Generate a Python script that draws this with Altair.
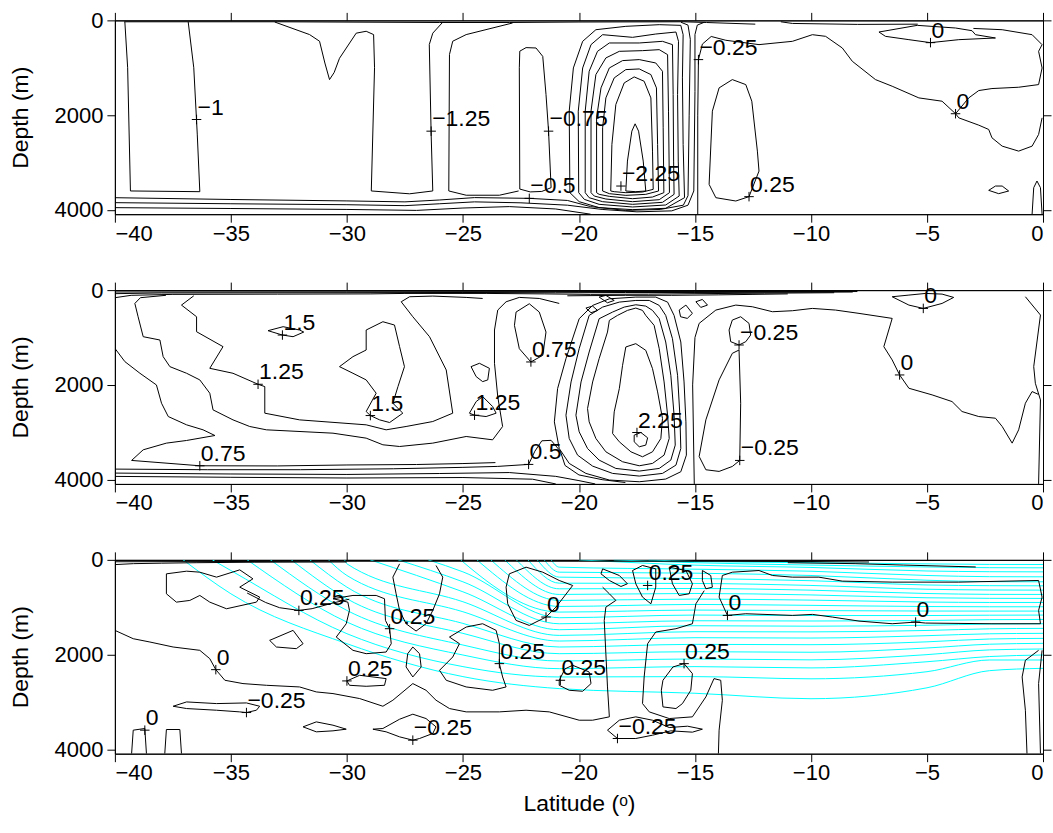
import altair as alt
import pandas as pd

FONT = "Liberation Sans"
LAT_TICKS = [-40, -35, -30, -25, -20, -15, -10, -5, 0]
DEPTH_TICKS = [0, 2000, 4000]
DEPTH_MAX = 4090

# ---------------- Panel 1 contour lines (lat, depth) ----------------
P1_LINES = {
    "surf_a": [(-39.6, 30), (-33, 30), (-26, 45), (-23, 45), (-20, 35), (-15.5, 30), (-14.5, 45), (-12.4, 80)],
    "surf_b": [(-11.3, 30), (-10.8, 65), (-8, 85), (-5.4, 80)],
    "u_left": [(-39.57, 35), (-39.45, 1000), (-39.33, 3600), (-36.34, 3615), (-36.45, 2400), (-36.6, 1000), (-36.84, 35)],
    "v_notch": [(-33.11, 35), (-31.61, 300), (-31.18, 440), (-30.95, 900), (-30.75, 1250), (-30.55, 1100), (-30.32, 800),
                (-29.6, 270), (-29.17, 230), (-28.85, 300), (-28.81, 1000), (-28.95, 3600), (-27.3, 3660), (-26.3, 3600),
                (-26.37, 2400), (-26.45, 510), (-26.3, 270), (-25.9, 55)],
    "u_mid": [(-22.86, 55), (-24.86, 300), (-25.44, 440), (-25.58, 720), (-25.61, 3600), (-24.86, 3690), (-23.43, 3690), (-22.6, 3600)],
    "loop_a": [(-22.55, 3560), (-22.57, 1000), (-22.55, 650), (-22.28, 575), (-21.85, 583), (-21.56, 760), (-21.42, 1565),
               (-21.31, 2338), (-21.2, 3530), (-21.6, 3610), (-22.1, 3620), (-22.55, 3560)],
    "loop1": [(-20.39, 3636), (-20.42, 1916), (-20.24, 1004), (-19.84, 442), (-19.27, 197), (-17.98, 126), (-16.54, 91),
              (-15.61, 105), (-15.51, 302), (-15.54, 1214), (-15.51, 2618), (-15.45, 3742), (-16.26, 3966), (-17.69, 3994),
              (-19.13, 3952), (-19.99, 3826), (-20.39, 3636)],
    "loop2": [(-20.01, 3636), (-20.03, 1916), (-19.84, 1004), (-19.48, 512), (-18.98, 302), (-17.69, 358), (-16.69, 288),
              (-15.82, 246), (-15.71, 442), (-15.75, 1565), (-15.72, 2969), (-15.68, 3707), (-16.26, 3896), (-17.69, 3938),
              (-19.13, 3882), (-19.77, 3777), (-20.01, 3636)],
    "loop3": [(-19.73, 3636), (-19.73, 1916), (-19.56, 1074), (-19.2, 653), (-18.69, 477), (-17.40, 477), (-16.40, 442),
              (-15.97, 512), (-15.94, 1565), (-15.92, 2969), (-15.90, 3671), (-16.40, 3840), (-17.69, 3882), (-18.98, 3826),
              (-19.56, 3742), (-19.73, 3636)],
    "loop4": [(-19.48, 3636), (-19.48, 1916), (-19.27, 1144), (-18.84, 793), (-18.26, 653), (-17.26, 639), (-16.54, 618),
              (-16.18, 723), (-16.14, 1916), (-16.10, 3636), (-16.54, 3784), (-17.69, 3826), (-18.84, 3770), (-19.34, 3707),
              (-19.48, 3636)],
    "loop5": [(-19.24, 3636), (-19.24, 2057), (-19.05, 1425), (-18.69, 1004), (-18.12, 849), (-17.40, 828), (-16.69, 899),
              (-16.40, 1074), (-16.37, 2267), (-16.34, 3636), (-16.83, 3728), (-17.69, 3763), (-18.69, 3714), (-19.13, 3671),
              (-19.24, 3636)],
    "loop6": [(-18.98, 3601), (-18.98, 2267), (-18.84, 1636), (-18.48, 1214), (-17.98, 1039), (-17.40, 1025), (-16.90, 1144),
              (-16.66, 1425), (-16.61, 2618), (-16.57, 3601), (-17.12, 3671), (-17.98, 3693), (-18.69, 3657), (-18.98, 3601)],
    "loop7": [(-18.63, 3601), (-18.58, 2618), (-18.41, 1776), (-18.05, 1320), (-17.62, 1193), (-17.19, 1285), (-16.90, 1636),
              (-16.83, 2759), (-16.80, 3566), (-17.26, 3622), (-17.98, 3636), (-18.48, 3615), (-18.63, 3601)],
    "loop8": [(-17.98, 3601), (-17.91, 2969), (-17.72, 2338), (-17.58, 2183), (-17.43, 2338), (-17.23, 2969), (-17.12, 3601),
              (-17.55, 3615), (-17.98, 3601)],
    "bot1": [(-40, 3742), (-35, 3780), (-30, 3810), (-27.5, 3830), (-26, 3790), (-24.5, 3740), (-22.14, 3756), (-20.5, 3800),
             (-19.5, 3930), (-18, 4010), (-16.5, 3990), (-15.5, 3900), (-15.3, 3700), (-15.25, 2000), (-15.2, 400),
             (-15.3, 100), (-15.6, 40)],
    "bot2": [(-40, 3847), (-35, 3870), (-30, 3890), (-27.5, 3910), (-26, 3870), (-24.5, 3830), (-22.5, 3850), (-20.5, 3900),
             (-19, 3990), (-17.5, 4040), (-16, 4020), (-15.3, 3900), (-15.05, 3600), (-15.0, 1500), (-15.0, 300),
             (-14.9, 100), (-14.6, 40)],
    "bot3": [(-40, 3952), (-35, 3970), (-30, 3990), (-27, 4010), (-25, 3960), (-23, 3930), (-21, 3980), (-19.5, 4090)],
    "neg025": [(-14.88, 4090), (-14.88, 2000), (-14.85, 828), (-14.68, 500), (-14.3, 340), (-13.67, 420), (-12.24, 512),
               (-10.8, 442), (-9.94, 302), (-9.37, 337), (-8.65, 583), (-8.22, 863), (-7.22, 1250), (-6.5, 1390),
               (-5.35, 1636), (-4.35, 1706), (-3.77, 1970), (-3.2, 1636), (-2.77, 1481), (-2.2, 1439), (-1.05, 1411),
               (-0.19, 1355), (-0.04, 1004), (-0.19, 653), (-0.04, 513), (-0.47, 302), (-1.76, 197), (-3.0, 170)],
    "zero_low": [(-3.77, 1970), (-3.63, 2057), (-2.77, 2211), (-2.34, 2302), (-2.2, 2478), (-1.76, 2654), (-1.05, 2759),
                 (-0.47, 2654), (-0.19, 2408), (-0.04, 2057)],
    "zero_top": [(-5.42, 105), (-7.07, 246), (-6.79, 337), (-5.78, 407), (-4.85, 470), (-3.63, 407), (-2.05, 372),
                 (-2.91, 302), (-3.06, 218), (-3.77, 161), (-5.42, 105)],
    "pos025": [(-13.39, 1250), (-13.96, 1425), (-14.25, 1916), (-14.39, 3461), (-14.1, 3742), (-13.24, 3812), (-12.67, 3720),
               (-12.24, 3180), (-12.31, 2759), (-12.55, 1706), (-12.81, 1355), (-13.39, 1250)],
    "ell": [(-2.34, 3587), (-2.05, 3496), (-1.76, 3496), (-1.48, 3601), (-1.91, 3657), (-2.34, 3587)],
    "edge": [(-0.47, 4090), (-0.40, 3531), (-0.26, 3390), (-0.11, 3531), (-0.04, 4090)],
}
P1_LABELS = [("−1", -36.48, 2092), ("−1.25", -26.37, 2338), ("−0.75", -21.31, 2338), ("−0.5", -22.14, 3756),
             ("−2.25", -18.19, 3496), ("−0.25", -14.85, 828), ("0", -4.85, 470), ("0", -3.77, 1970),
             ("0.25", -12.67, 3720)]

# ---------------- Panel 2 contour lines ----------------
P2_LINES = {
    "surf_a": [(-40, 40), (-30, 35), (-20, 30), (-15, 30), (-8, 30)],
    "surf_b": [(-40, 75), (-38, 60), (-30, 55), (-25, 50), (-21, 55), (-18, 50), (-15, 50), (-10, 45), (-8.2, 40)],
    "surf_c": [(-40, 160), (-39.3, 110), (-37.5, 90), (-33, 85), (-29, 80), (-27.5, 70), (-24, 70), (-21.5, 80),
               (-19.5, 90), (-17, 85), (-15, 75), (-12, 65), (-9, 55)],
    "surf_d": [(-20.5, 120), (-18, 110), (-16, 110), (-14, 100), (-12.5, 90), (-11, 80)],
    "tongue": [(-40, 1229), (-39.57, 1509), (-38.92, 1755), (-38.21, 2001), (-37.99, 2387), (-37.70, 2668), (-36.91, 2843),
               (-36.20, 2948), (-35.69, 3068), (-36.91, 3173), (-37.78, 3229), (-38.78, 3370), (-39.28, 3594),
               (-36.34, 3707), (-33, 3710), (-30, 3690), (-27, 3680), (-25, 3660), (-23.6, 3640)],
    "one": [(-37.8, 110), (-38.9, 160), (-39.14, 281), (-39.0, 562), (-38.78, 983), (-38.06, 1053), (-37.92, 1404),
            (-37.63, 1615), (-36.91, 1755), (-36.34, 1895), (-35.91, 2176), (-35.77, 2527), (-34.91, 2738), (-34.19, 2878),
            (-33.47, 2948), (-30.6, 3019), (-29.17, 3124), (-28.45, 3264), (-27.73, 3300), (-26.3, 3229), (-24.86, 3089),
            (-23.72, 3159), (-23.29, 2878), (-23.5, 2246), (-23.64, 1544), (-23.64, 842), (-23.5, 421), (-23.14, 246),
            (-22.57, 154), (-21.71, 176), (-20.85, 281)],
    "one_two": [(-36.6, 120), (-37.13, 316), (-36.48, 562), (-36.48, 878), (-35.34, 1193), (-35.91, 1650), (-34.91, 1755),
                (-33.83, 1987), (-33.54, 2036), (-33.54, 2597), (-32.04, 2738), (-29.17, 2843), (-28.31, 2948),
                (-27.45, 2878), (-26.3, 2773), (-25.44, 2597), (-25.72, 1685), (-26.44, 983), (-27.16, 562),
                (-27.66, 246), (-27.3, 140), (-26.3, 126), (-24.86, 154), (-24.15, 176)],
    "l15a": [(-33.40, 856), (-32.75, 772), (-32.04, 842), (-31.86, 885), (-32.32, 983), (-32.78, 948), (-33.40, 856)],
    "l15b": [(-30.32, 1615), (-29.74, 1404), (-29.17, 1264), (-29.17, 842), (-28.45, 667), (-27.95, 737), (-27.73, 1193),
             (-27.52, 1615), (-27.80, 2036), (-28.02, 2387), (-27.59, 2597), (-28.16, 2794), (-28.59, 2738),
             (-28.99, 2647), (-29.17, 2562), (-28.74, 2176), (-29.17, 1895), (-29.74, 1755), (-30.32, 1615)],
    "l125a": [(-24.65, 1615), (-24.29, 1544), (-23.86, 1650), (-23.93, 1895), (-24.15, 1931), (-24.43, 1825), (-24.65, 1615)],
    "l125b": [(-24.72, 2597), (-24.43, 2352), (-24.15, 2246), (-23.72, 2457), (-23.57, 2597), (-24.0, 2668), (-24.50, 2640),
              (-24.72, 2597)],
    "l075": [(-22.78, 744), (-22.71, 463), (-22.14, 288), (-21.71, 463), (-21.42, 885), (-21.56, 1376), (-22.07, 1516),
             (-22.57, 1236), (-22.78, 744)],
    "m1": [(-17.62, 3061), (-17.33, 3005), (-17.04, 3117), (-17.12, 3271), (-17.40, 3306), (-17.62, 3201), (-17.62, 3061)],
    "m2": [(-17.98, 1200), (-17.55, 1130), (-17.12, 1271), (-16.83, 1657), (-16.61, 2148), (-16.40, 2710), (-16.47, 3131),
           (-16.83, 3412), (-17.26, 3517), (-17.76, 3412), (-18.26, 3201), (-18.55, 3026), (-18.48, 2569), (-18.26, 2078),
           (-18.12, 1587), (-17.98, 1200)],
    "m3": [(-18.77, 885), (-18.69, 639), (-18.34, 534), (-17.91, 428), (-17.55, 379), (-17.26, 428), (-17.12, 534),
           (-16.76, 744), (-16.54, 1236), (-16.33, 1938), (-16.18, 2640), (-16.11, 3131), (-16.33, 3482), (-16.83, 3657),
           (-17.40, 3707), (-18.12, 3622), (-18.84, 3412), (-19.27, 3131), (-19.56, 2780), (-19.63, 2499), (-19.41, 1938),
           (-19.13, 1446), (-18.77, 885)],
    "m4": [(-19.13, 604), (-18.55, 463), (-18.05, 358), (-17.55, 309), (-17.12, 337), (-16.83, 428), (-16.54, 604),
           (-16.26, 1095), (-16.04, 1797), (-15.90, 2640), (-15.85, 3271), (-16.04, 3587), (-16.54, 3763), (-17.40, 3819),
           (-18.41, 3763), (-19.13, 3587), (-19.63, 3342), (-19.99, 2991), (-20.13, 2640), (-19.91, 1938), (-19.56, 1306),
           (-19.13, 604)],
    "m5": [(-19.56, 534), (-18.98, 358), (-18.26, 253), (-17.55, 218), (-16.97, 218), (-16.54, 323), (-16.26, 534),
           (-15.97, 1025), (-15.75, 1797), (-15.65, 2640), (-15.61, 3342), (-15.82, 3693), (-16.40, 3868), (-17.40, 3924),
           (-18.55, 3868), (-19.41, 3714), (-20.06, 3482), (-20.42, 3131), (-20.56, 2640), (-20.34, 1938), (-19.99, 1236),
           (-19.56, 534)],
    "m6": [(-19.99, 604), (-19.41, 323), (-18.69, 183), (-17.55, 147), (-16.69, 147), (-16.18, 253), (-15.90, 534),
           (-15.61, 1095), (-15.47, 1938), (-15.39, 2780), (-15.37, 3482), (-15.61, 3833), (-16.26, 3987), (-17.40, 4044),
           (-18.69, 4008), (-19.70, 3868), (-20.42, 3657), (-20.85, 3342), (-21.06, 2780), (-20.92, 2078), (-20.56, 1446),
           (-19.99, 604)],
    "b05": [(-40, 3777), (-36, 3790), (-32, 3790), (-28, 3770), (-25, 3740), (-23.5, 3720), (-22.17, 3678), (-21.9, 3400),
            (-21.6, 3180), (-21.2, 3170), (-20.8, 3400), (-20.6, 3700), (-20.0, 3900), (-19, 4000), (-18, 4060)],
    "b2": [(-40, 3861), (-35, 3880), (-30, 3890), (-26, 3870), (-23, 3850), (-21, 3930), (-20, 4020), (-19.3, 4090)],
    "b3": [(-40, 3931), (-35, 3950), (-30, 3965), (-25, 3955), (-22, 3990), (-21, 4090)],
    "vert0": [(-15.03, 4090), (-15.1, 2000), (-15.0, 1000), (-14.82, 702), (-14.10, 421), (-13.24, 316), (-12.53, 351),
              (-11.66, 456), (-10.80, 435), (-9.94, 386), (-8.94, 421), (-7.93, 491), (-6.50, 597), (-6.86, 1193),
              (-6.50, 1474), (-6.18, 1790), (-5.78, 2071), (-4.78, 2211), (-3.92, 2352), (-3.49, 2562), (-2.77, 2668),
              (-2.05, 2703), (-1.76, 2878), (-1.33, 3229), (-1.05, 2948), (-0.76, 2387), (-0.47, 2141), (-0.2, 2200)],
    "m025a": [(-13.53, 842), (-13.39, 632), (-13.03, 562), (-12.67, 702), (-12.60, 948), (-12.81, 1088), (-13.10, 1158),
              (-13.46, 1088), (-13.53, 842)],
    "m025b": [(-13.10, 1264), (-13.39, 1334), (-13.96, 1895), (-14.53, 2738), (-14.82, 3510), (-14.53, 3791), (-13.96, 3826),
              (-13.39, 3721), (-13.07, 3594), (-13.03, 2387), (-13.10, 1264)],
    "zero_top": [(-6.50, 140), (-5.78, 105), (-5.06, 70), (-4.35, 84), (-3.85, 154), (-4.35, 281), (-5.16, 386),
                 (-5.78, 316), (-6.50, 140)],
    "edge": [(-0.76, 140), (-0.11, 526), (-0.40, 1615), (-0.33, 1966), (-0.11, 2317), (-0.19, 4090)],
    "sm1": [(-15.68, 421), (-15.39, 316), (-15.11, 491), (-15.33, 597), (-15.62, 562), (-15.68, 421)],
    "sm2": [(-14.96, 246), (-14.68, 197), (-14.46, 316), (-14.75, 365), (-14.96, 246)],
    "sm3": [(-19.70, 379), (-19.41, 337), (-19.20, 428), (-19.48, 477), (-19.70, 379)],
    "sm4": [(-19.13, 147), (-18.84, 112), (-18.48, 218), (-18.77, 267), (-19.13, 147)],
}
P2_LABELS = [("1.5", -32.78, 948), ("1.25", -33.83, 1987), ("0.75", -36.34, 3707), ("1.5", -28.99, 2647),
             ("1.25", -24.50, 2640), ("0.75", -22.07, 1516), ("0.5", -22.17, 3678), ("2.25", -17.50, 3005),
             ("−0.25", -13.10, 1158), ("−0.25", -13.07, 3594), ("0", -5.16, 386), ("0", -6.18, 1790)]

# ---------------- Panel 3 contour lines ----------------
P3_LINES = {
    "s3a": [(-40, 40), (-30, 30), (-20, 30), (-15, 30), (-10, 35), (-7.5, 45)],
    "s3b": [(-40, 100), (-39.2, 80), (-38, 70), (-36.5, 60), (-34, 50), (-30, 45)],
    "s3c": [(-11, 60), (-8.1, 80), (-6, 110), (-2.9, 150)],
    "tl_loop": [(-37.78, 295), (-36.91, 239), (-36.34, 260), (-35.62, 365), (-34.62, 211), (-34.05, 400), (-34.62, 576),
                (-33.76, 786), (-33.90, 892), (-35.19, 1032), (-35.91, 892), (-36.34, 751), (-36.77, 856), (-37.35, 892),
                (-37.78, 716), (-37.78, 295)],
    "p3a": [(-34.3, 700), (-33.5, 900), (-32.9, 1010), (-32.07, 1067), (-31.5, 1030), (-30.6, 910), (-29.9, 830)],
    "p3b": [(-30.60, 821), (-29.74, 751), (-28.74, 751), (-28.38, 821), (-28.34, 1278), (-28.16, 1453), (-28.09, 1769),
            (-28.31, 1945), (-29.17, 1980), (-29.74, 1909), (-30.46, 1629), (-30.03, 1348), (-29.89, 1067), (-29.96, 892),
            (-30.60, 821)],
    "lobe27": [(-27.73, 84), (-28.02, 365), (-27.88, 716), (-27.73, 1067), (-27.45, 1348), (-27.02, 1502), (-26.59, 1348),
               (-26.30, 1067), (-26.01, 716), (-25.87, 365), (-26.16, 119)],
    "sm27": [(-27.16, 1839), (-26.87, 1980), (-26.80, 2260), (-27.16, 2471), (-27.45, 2260), (-27.38, 1980), (-27.16, 1839)],
    "loop235": [(-25.58, 1629), (-24.86, 1418), (-24.15, 1348), (-23.57, 1488), (-23.43, 1769), (-23.43, 2190),
                (-23.29, 2471), (-23.14, 2682), (-23.72, 2752), (-24.86, 2682), (-25.72, 2541), (-26.01, 2331),
                (-25.44, 2050), (-25.15, 1769), (-25.58, 1629)],
    "zero21": [(-23.14, 576), (-23.00, 295), (-22.28, 154), (-21.56, 260), (-20.85, 435), (-20.27, 541), (-20.99, 997),
               (-21.42, 1207), (-22.14, 1383), (-22.71, 1278), (-23.07, 927), (-23.14, 576)],
    "loop30": [(-30.0, 2555), (-29.45, 2436), (-28.31, 2506), (-28.38, 2647), (-29.17, 2668), (-29.89, 2647), (-30.0, 2555)],
    "sm32": [(-33.33, 1699), (-32.32, 1488), (-31.89, 1769), (-32.18, 1874), (-33.04, 1839), (-33.33, 1699)],
    "zero_long": [(-40, 1488), (-39.21, 1664), (-38.49, 1734), (-37.49, 1839), (-36.34, 1909), (-35.91, 2085),
                  (-35.65, 2317), (-35.26, 2541), (-34.48, 2611), (-33.47, 2647), (-32.04, 2682), (-31.32, 2787),
                  (-30.60, 2822), (-29.45, 2927), (-28.45, 3089), (-28.02, 2962), (-27.16, 2611), (-26.59, 2752),
                  (-26.16, 2962), (-25.58, 3138), (-24.86, 3208), (-23.43, 3208), (-22.28, 3173), (-21.28, 3208),
                  (-19.99, 3384), (-19.41, 3384), (-18.69, 3313), (-18.77, 2682), (-18.84, 1980), (-18.91, 1278),
                  (-18.84, 997), (-18.41, 856), (-18.69, 716), (-18.98, 576)],
    "m025a": [(-37.49, 3089), (-36.91, 2998), (-35.62, 3033), (-34.33, 3019), (-33.76, 3089), (-33.90, 3173),
              (-34.33, 3222), (-34.62, 3208), (-35.62, 3173), (-36.91, 3138), (-37.49, 3089)],
    "zero_a": [(-39.28, 4090), (-39.21, 3594), (-38.71, 3559), (-38.64, 4090)],
    "zero_b": [(-37.85, 4090), (-37.78, 3580), (-37.20, 3580), (-37.13, 4090)],
    "m025b": [(-31.89, 3524), (-31.32, 3419), (-30.60, 3489), (-30.03, 3573), (-30.60, 3608), (-31.32, 3629), (-31.89, 3524)],
    "m025c": [(-28.88, 3573), (-28.45, 3559), (-27.73, 3363), (-27.16, 3257), (-26.59, 3349), (-26.16, 3524),
              (-26.30, 3664), (-26.87, 3770), (-27.16, 3805), (-27.73, 3735), (-28.31, 3629), (-28.88, 3573)],
    "loop20": [(-20.6, 2300), (-20.27, 2225), (-19.56, 2366), (-19.48, 2611), (-19.84, 2773), (-20.42, 2752),
               (-20.85, 2647), (-20.85, 2541), (-20.6, 2300)],
    "zero_right": [(-13.82, 330), (-13.39, 260), (-12.24, 225), (-11.66, 330), (-10.80, 365), (-9.66, 365), (-8.65, 449),
                   (-6.50, 470), (-3.63, 470), (-0.19, 435), (-0.04, 786), (-0.19, 1067), (-0.11, 1348), (-2.20, 1348),
                   (-5.06, 1334), (-5.49, 1313), (-6.50, 1348), (-7.93, 1292), (-9.08, 1207), (-9.94, 1151),
                   (-10.80, 1172), (-12.81, 1137), (-13.60, 1172), (-13.96, 786), (-13.82, 330)],
    "t1": [(-18.98, 190), (-18.26, 330), (-17.91, 505), (-18.19, 562), (-18.69, 435), (-19.05, 295), (-18.98, 190)],
    "t2": [(-17.69, 225), (-17.26, 119), (-16.69, 190), (-16.69, 576), (-16.90, 927), (-17.26, 786), (-17.55, 505),
           (-17.69, 225)],
    "t3": [(-16.11, 154), (-15.39, 225), (-15.11, 505), (-15.25, 716), (-15.68, 751), (-15.97, 505), (-16.11, 154)],
    "t4": [(-14.68, 225), (-14.32, 330), (-14.25, 576), (-14.53, 611), (-14.68, 435), (-14.68, 225)],
    "p025_15": [(-16.38, 2541), (-15.95, 2260), (-15.47, 2190), (-15.11, 2401), (-15.18, 2752), (-15.54, 3033),
                (-15.82, 3138), (-16.38, 3103), (-16.45, 2752), (-16.38, 2541)],
    "outer15": [(-14.6, 650), (-14.96, 927), (-15.11, 1348), (-15.82, 1453), (-16.69, 1523), (-17.04, 1769), (-17.19, 2471),
                (-17.26, 3033), (-16.97, 3208), (-16.11, 3349), (-15.11, 3313), (-14.53, 2892), (-14.18, 2506),
                (-13.89, 2541), (-13.82, 2962), (-13.96, 3594), (-13.99, 4090)],
    "m025_18": [(-18.77, 3594), (-18.26, 3384), (-17.55, 3313), (-16.83, 3384), (-16.11, 3538), (-15.32, 3510),
                (-14.68, 3573), (-15.11, 3636), (-16.04, 3608), (-16.83, 3700), (-17.55, 3770), (-18.34, 3770),
                (-18.77, 3594)],
    "edge3a": [(-0.19, 1909), (-0.76, 2120), (-0.90, 2471), (-0.76, 3173), (-0.69, 4090)],
    "edge3b": [(-0.04, 1909), (-0.19, 2611), (-0.11, 4090)],
}
P3_LABELS = [("0.25", -32.07, 1067), ("0.25", -28.16, 1453), ("0", -35.65, 2317), ("0.25", -30.0, 2555),
             ("−0.25", -34.33, 3222), ("0", -38.71, 3594), ("−0.25", -27.16, 3805), ("0", -21.42, 1207),
             ("0.25", -23.43, 2190), ("0.25", -20.80, 2541), ("0.25", -17.04, 540), ("0", -13.60, 1172),
             ("0", -5.49, 1313), ("0.25", -15.47, 2190), ("−0.25", -18.34, 3770)]

# ---------------- Panel 3 cyan lines (outcrop latitude + depths at CYAN_LATS) ----------------
CYAN_LATS = [-35, -30, -25, -20.85, -15, -10, -5, -2.3, 0]
CYAN_OUTCROP = [-37.06, -35.8, -34.3, -33.3, -32.4, -31.6, -30.8, -30.1, -29.0, -27.8, -26.5, -25.1,
                -24.4, -23.8, -23.2, -22.7, -22.2, -21.8, -21.5, -21.2, -20.0, -18.5, -17.0]
N = None
CYAN_DEPTHS = [
    [716, 1769, 2464, 2717, 2815, 2930, 2700, 2338, 2289],
    [225, 1558, 2253, 2471, 2464, 2510, 2360, 2113, 2113],
    [N, 1313, 2008, 2296, 2253, 2280, 2150, 2040, 2008],
    [N, 1067, 1797, 2134, 2092, 2110, 2000, 1900, 1881],
    [N, 821, 1551, 1980, 1938, 1950, 1860, 1780, 1762],
    [N, 576, 1341, 1839, 1783, 1790, 1730, 1670, 1657],
    [N, 330, 1095, 1713, 1643, 1650, 1600, 1560, 1551],
    [N, 84, 884, 1594, 1516, 1520, 1490, 1455, 1446],
    [N, N, 674, 1474, 1390, 1400, 1380, 1355, 1348],
    [N, N, 463, 1348, 1285, 1290, 1280, 1262, 1257],
    [N, N, 253, 1221, 1165, 1175, 1175, 1168, 1165],
    [N, N, 42, 1102, 1060, 1070, 1080, 1081, 1081],
    [N, N, N, 983, 941, 960, 985, 990, 990],
    [N, N, N, 856, 828, 850, 890, 899, 899],
    [N, N, N, 730, 709, 740, 800, 812, 814],
    [N, N, N, 611, 604, 640, 710, 728, 730],
    [N, N, N, 492, 498, 540, 620, 636, 639],
    [N, N, N, 365, 393, 440, 530, 545, 548],
    [N, N, N, 260, 281, 330, 430, 460, 463],
    [N, N, N, 154, 197, 240, 330, 355, 358],
    [N, N, N, N, 112, 160, 235, 250, 253],
    [N, N, N, N, 60, 110, 150, 165, 168],
    [N, N, N, N, 35, 60, 85, 96, 98],
]


def lines_frame(lines):
    rows = []
    for name, pts in lines.items():
        for i, (la, de) in enumerate(pts):
            rows.append({"id": name, "o": i, "lat": la, "depth": de})
    return pd.DataFrame(rows)


def cyan_frame():
    rows = []
    for k, (oc, deps) in enumerate(zip(CYAN_OUTCROP, CYAN_DEPTHS)):
        pts = [(oc, 0)] + [(la, d) for la, d in zip(CYAN_LATS, deps) if d is not None and la > oc]
        for i, (la, de) in enumerate(pts):
            rows.append({"id": f"c{k}", "o": i, "lat": la, "depth": de})
    return pd.DataFrame(rows)


def labels_frame(labels):
    return pd.DataFrame([{"txt": t, "lat": la, "depth": de} for t, la, de in labels])


XS = alt.Scale(domain=[-40, 0], nice=False, zero=False)
YS = alt.Scale(domain=[0, DEPTH_MAX], reverse=True, nice=False, zero=False)


def panel(lines, labels, cyan=False, xtitle=None):
    ldf = lines_frame(lines)
    lab = labels_frame(labels)

    x_main = alt.X("lat:Q", scale=XS, title=xtitle,
                   axis=alt.Axis(values=LAT_TICKS, format="d", orient="bottom", grid=False,
                                 tickSize=8, labelPadding=1, titlePadding=9))
    y_main = alt.Y("depth:Q", scale=YS, title="Depth (m)",
                   axis=alt.Axis(values=DEPTH_TICKS, format="d", orient="left", grid=False,
                                 tickSize=8, labelPadding=4, titlePadding=22))
    x_plain = alt.X("lat:Q", scale=XS, axis=None)
    y_plain = alt.Y("depth:Q", scale=YS, axis=None)

    layers = []
    if cyan:
        layers.append(alt.Chart(cyan_frame()).mark_line(color="#00FFFF", strokeWidth=1, clip=True,
                                                        interpolate="monotone")
                      .encode(x=x_plain, y=y_plain, detail="id:N", order="o:Q"))
    layers.append(alt.Chart(ldf).mark_line(color="black", strokeWidth=1, clip=True)
                  .encode(x=x_main, y=y_main, detail="id:N", order="o:Q"))
    layers.append(alt.Chart(lab).mark_point(shape="M-1,0L1,0M0,-1L0,1", size=90, filled=False,
                                            color="black", strokeWidth=1, opacity=1)
                  .encode(x=x_plain, y=y_plain))
    layers.append(alt.Chart(lab).mark_text(align="left", baseline="alphabetic", dx=1, dy=-5,
                                           fontSize=23, font=FONT, color="black")
                  .encode(x=x_plain, y=y_plain, text="txt:N"))
    # opposite-side axes (ticks only)
    layers.append(alt.Chart(lab.head(1)).mark_point(opacity=0)
                  .encode(x=alt.X("lat:Q", scale=XS,
                                  axis=alt.Axis(values=LAT_TICKS, orient="top", labels=False, title=None,
                                                grid=False, tickSize=8)),
                          y=alt.Y("depth:Q", scale=YS,
                                  axis=alt.Axis(values=DEPTH_TICKS, orient="right", labels=False, title=None,
                                                grid=False, tickSize=8))))
    return (alt.layer(*layers)
            .resolve_axis(x="independent", y="independent")
            .properties(width=929, height=194))


p1 = panel(P1_LINES, P1_LABELS)
p2 = panel(P2_LINES, P2_LABELS)
p3 = panel(P3_LINES, P3_LABELS, cyan=True, xtitle="Latitude (ᵒ)")

chart = (alt.vconcat(p1, p2, p3, spacing=33)
         .properties(padding={"left": 8, "top": 8, "right": 1, "bottom": 5}, background="white")
         .configure_view(stroke="black", strokeWidth=1)
         .configure_axis(domainColor="black", tickColor="black", labelColor="black", titleColor="black",
                         labelFont=FONT, titleFont=FONT, labelFontSize=22, titleFontSize=23,
                         titleFontWeight="normal", domainWidth=1, tickWidth=1))

chart.save("out.html", embed_options={"renderer": "svg", "actions": False})
